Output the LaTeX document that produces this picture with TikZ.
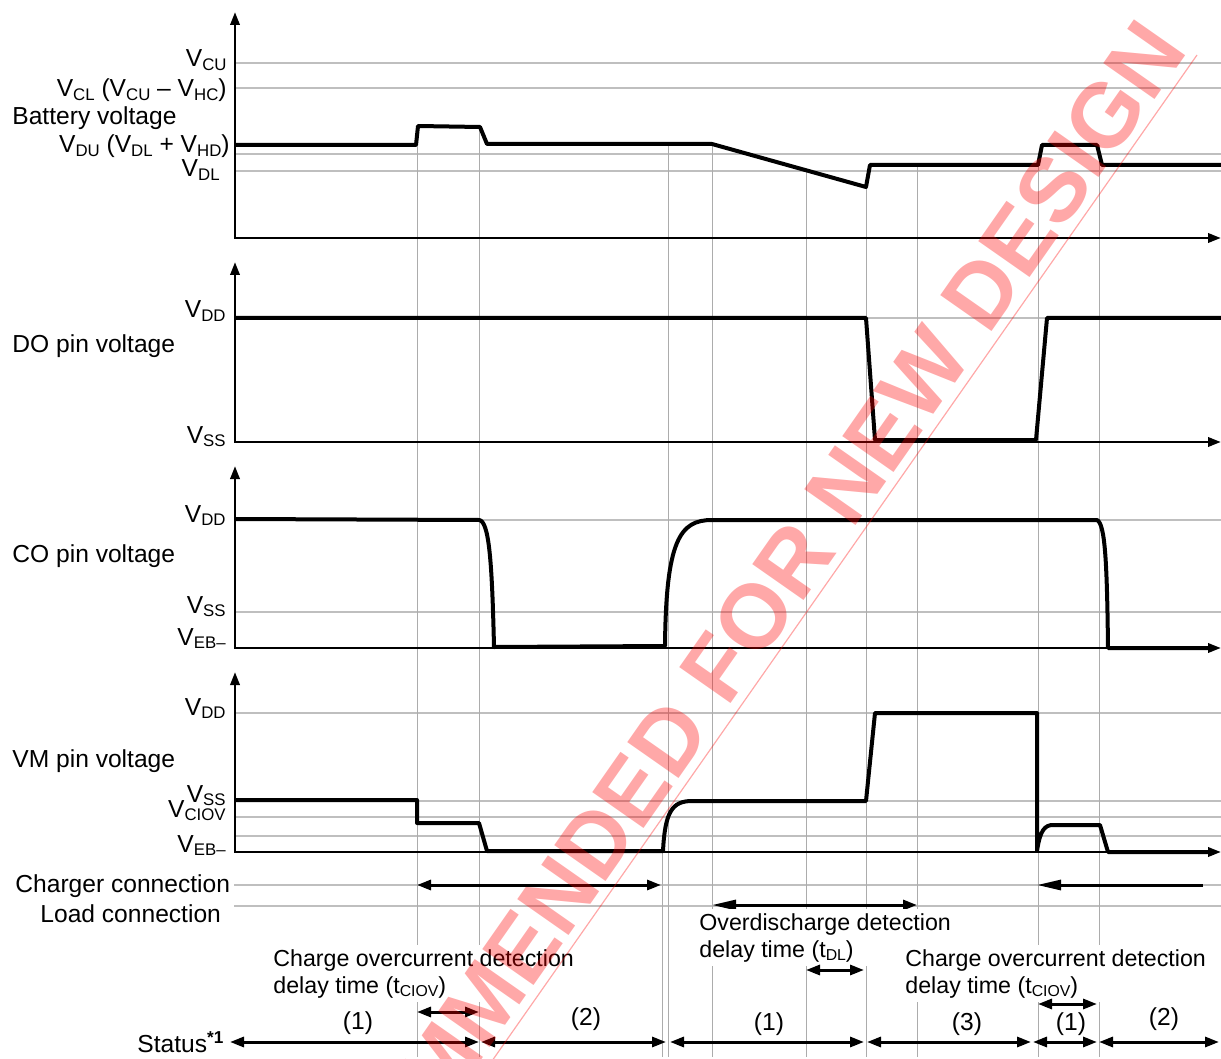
\documentclass[tikz,border=0pt]{standalone}
\usepackage{fontspec}
\setmainfont{Liberation Sans}
\usetikzlibrary{arrows.meta}
\newcommand{\vsub}[1]{\raisebox{-1.6pt}{\fontsize{8.4}{9}\selectfont #1}}
\newcommand{\nsub}[1]{\raisebox{-1.5pt}{\fontsize{7.9}{9}\selectfont #1}}
\begin{document}
\begin{tikzpicture}[x=0.5pt,y=-0.5pt]
        % Styles
        \tikzstyle{level line}=[gray!50,line width=0.6pt]
        \tikzstyle{time line}=[gray!65,line width=0.5pt]
        \tikzstyle{axis}=[line width=1.4pt,{Triangle[length=6.5pt,width=4.6pt]}-{Triangle[length=6.5pt,width=4.6pt]}]
        \tikzstyle{signal}=[line width=2pt,line join=round]
        \tikzstyle{span}=[line width=1.5pt,{Triangle[length=7pt,width=5pt]}-{Triangle[length=7pt,width=5pt]}]
        \tikzstyle{label}=[inner sep=0pt,font=\fontsize{12.3}{13.5}\selectfont]
        \tikzstyle{note}=[fill=white,inner sep=2pt,align=left,anchor=north west,font=\fontsize{11.6}{13.5}\selectfont]
        \useasboundingbox (0,0) rectangle (1221,1059);
        %grid
        \foreach \y in {63,88,154,171,318,520,612,713,801,817,836,885,906}
            \draw[level line] (234,\y) -- (1221,\y);
        \foreach \x/\top in {417/145,479/126,662/851,668/144,712/144,806/171,866/187,917/165,1038/164,1099/145}
            \draw[time line] (\x,\top) -- (\x,1057);
        %axes
        \foreach \top/\bot in {12/238,262/442,466/648,672/852}
            \draw[axis] (235,\top) -- (235,\bot) -- (1221,\bot);
        %signals
        \draw[signal] (235,145) -- (416,145) -- (418,126) -- (480,127) -- (487,144) -- (712,144)
            -- (866,187) -- (870,165) -- (1038,165) -- (1042,145) -- (1097,145) -- (1102,165) -- (1221,165);
        \draw[signal] (235,318) -- (866,318) -- (875,440) -- (1036,440) -- (1047,318) -- (1221,318);
        \draw[signal] (235,519) -- (479,520) .. controls (489,521) and (492,560) .. (494,647) -- (665,646)
            .. controls (666,540) and (680,520) .. (712,520) -- (1097,520)
            .. controls (1105,524) and (1107,560) .. (1108,648) -- (1210,648);
        \draw[signal] (235,800) -- (417,800) -- (417,823) -- (479,823) -- (487,851) -- (663,851)
            .. controls (665,812) and (672,801) .. (692,801) -- (866,801) -- (875,713) -- (1037,713) -- (1037,851)
            .. controls (1040,830) and (1045,825) .. (1053,825) -- (1100,825) -- (1108,852) -- (1210,852);
        %level labels
        \node[label,anchor=base east] (vcu) at (227,67) {V\vsub{CU}};
        \node[label,anchor=base east] (vcl) at (227,97) {V\vsub{CL} (V\vsub{CU} – V\vsub{HC})};
        \node[label,anchor=base west] (bat) at (12,125) {Battery voltage};
        \node[label,anchor=base east] (vdu) at (230,153) {V\vsub{DU} (V\vsub{DL} + V\vsub{HD})};
        \node[label,anchor=base east] (vdl) at (220,177) {V\vsub{DL}};
        \node[label,anchor=base east] (dodd) at (226,318) {V\vsub{DD}};
        \node[label,anchor=base west] (do) at (12,352) {DO pin voltage};
        \node[label,anchor=base east] (doss) at (226,443) {V\vsub{SS}};
        \node[label,anchor=base east] (codd) at (226,522) {V\vsub{DD}};
        \node[label,anchor=base west] (co) at (12,562) {CO pin voltage};
        \node[label,anchor=base east] (coss) at (226,613) {V\vsub{SS}};
        \node[label,anchor=base east] (coeb) at (226,645) {V\vsub{EB–}};
        \node[label,anchor=base east] (vmdd) at (226,715) {V\vsub{DD}};
        \node[label,anchor=base west] (vm) at (12,767) {VM pin voltage};
        \node[label,anchor=base east] (vmss) at (226,802) {V\vsub{SS}};
        \node[label,anchor=base east] (vmciov) at (226,817) {V\vsub{CIOV}};
        \node[label,anchor=base east] (vmeb) at (226,852) {V\vsub{EB–}};
        \node[label,anchor=base west] (chg) at (15,892) {Charger connection};
        \node[label,anchor=base west] (load) at (40,922) {Load connection};
        \node[label,anchor=base west] (status) at (137,1052) {Status\textsuperscript{\textbf{*1}}};
        %connections
        \draw[span] (417,885) -- (661,885);
        \draw[line width=1.5pt,-{Triangle[length=12pt,width=5pt]}] (1203,885) -- (1037,885);
        \draw[line width=1.5pt,{Triangle[length=12pt,width=5pt]}-{Triangle[length=7pt,width=5pt]}] (712,905) -- (917,905);
        %delay times
        \node[note] (ciov1) at (269,945) {Charge overcurrent detection\\delay time (t\nsub{CIOV})};
        \node[note] (dl) at (695,909) {Overdischarge detection\\delay time (t\nsub{DL})};
        \node[note] (ciov2) at (901,945) {Charge overcurrent detection\\delay time (t\nsub{CIOV})};
        \draw[span] (417,1012) -- (479,1012);
        \draw[span] (806,970) -- (864,970);
        \draw[span] (1038,1004) -- (1097,1004);
        %status
        \foreach \a/\b in {230/479,481/666,670/864,867/1031,1033/1097,1099/1219}
            \draw[span] (\a,1042) -- (\b,1042);
        \foreach \x/\y/\s in {358/1023/1,586/1019/2,769/1024/1,967/1024/3,1071/1024/1,1164/1019/2}
            \node[label] (st\x) at (\x,\y) {(\s)};
        %watermark
        \begin{scope}
            \clip (0,0) rectangle (1221,1059);
            \node[rotate=55,anchor=base east,inner sep=0pt,text=red,opacity=0.34,
                font=\fontsize{45.5}{50}\selectfont\bfseries] (wm) at (1189,50) {NOT RECOMMENDED FOR NEW DESIGN};
            \draw[red,opacity=0.34,line width=0.6pt] (1197,55) -- (164,1529);
        \end{scope}
\end{tikzpicture}
\end{document}
